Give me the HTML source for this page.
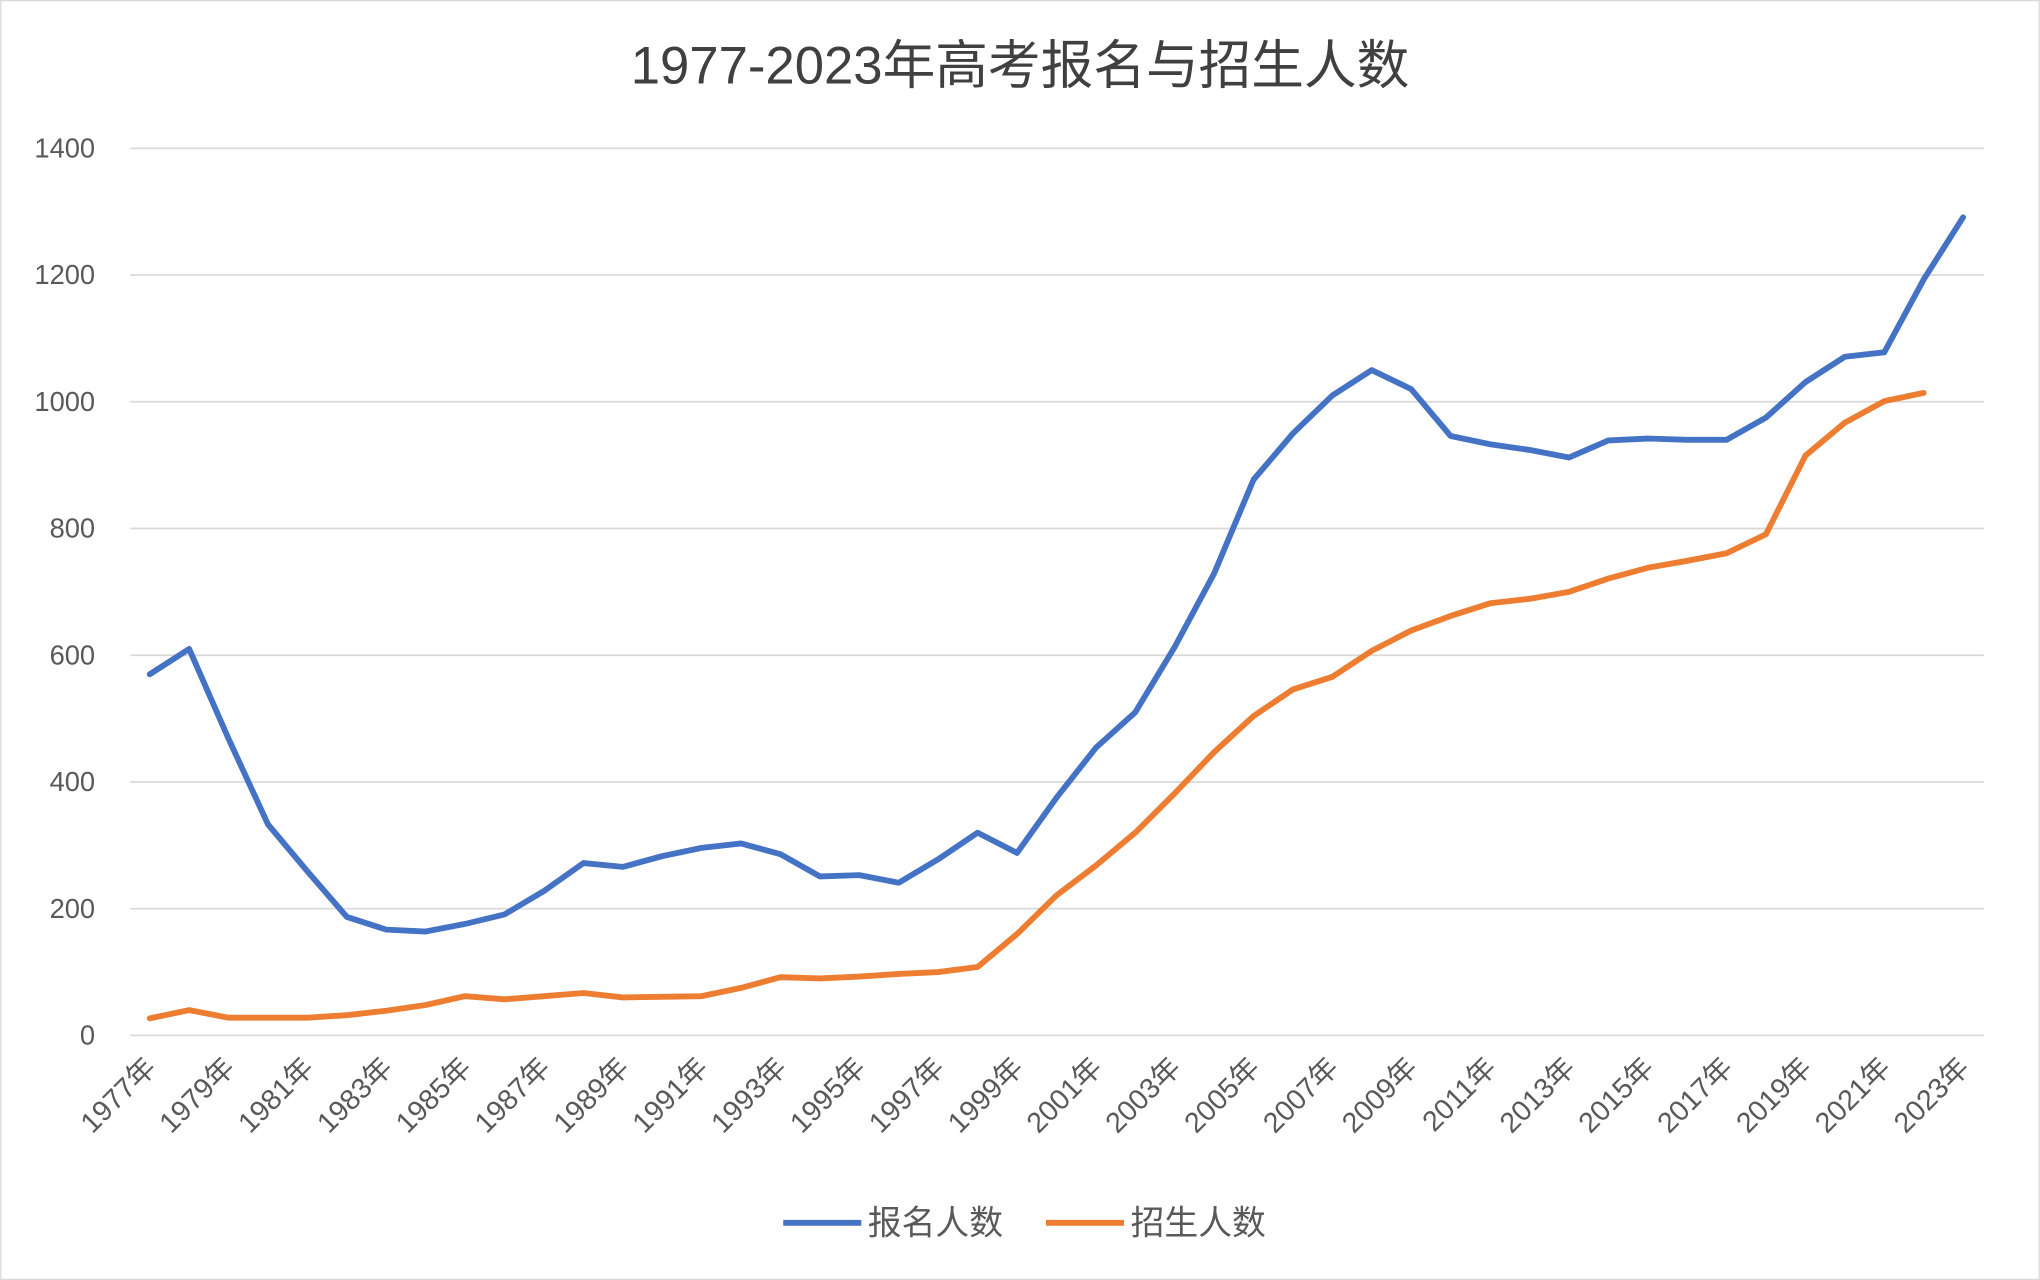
<!DOCTYPE html>
<html><head><meta charset="utf-8"><style>
html,body{margin:0;padding:0;background:#fff}
svg{display:block}
text{font-family:"Liberation Sans","Noto Sans CJK SC",sans-serif}
</style></head><body>
<svg id="c" width="2040" height="1280" viewBox="0 0 1568 984" xmlns="http://www.w3.org/2000/svg">
<rect x="0.5" y="0.5" width="1567" height="983" fill="#fff" stroke="#d9d9d9"/>
<text x="784" y="64" text-anchor="middle" font-size="40.5" fill="#404040">1977-2023年高考报名与招生人数</text>
<g id="grid"></g>
<g id="lbl"></g>
<polyline id="b" fill="none" stroke="#4472c4" stroke-width="4.5" stroke-linejoin="round" stroke-linecap="round"/>
<polyline id="o" fill="none" stroke="#ed7d31" stroke-width="4.5" stroke-linejoin="round" stroke-linecap="round"/>
<line x1="602" y1="940" x2="662" y2="940" stroke="#4472c4" stroke-width="4.5"/>
<text x="667" y="949" font-size="26" fill="#595959">报名人数</text>
<line x1="804" y1="940" x2="864" y2="940" stroke="#ed7d31" stroke-width="4.5"/>
<text x="869" y="949" font-size="26" fill="#595959">招生人数</text>
</svg>
<script>
var B=[570,610,468,333,259,187,167,164,176,191,228,272,266,283,296,303,286,251,253,241,278,320,288,375,454,510,613,729,877,950,1010,1050,1020,946,933,924,912,939,942,940,940,975,1031,1071,1078,1193,1291];
var O=[27,40,28,28,28,32,39,48,62,57,62,67,60,61,62,75,92,90,93,97,100,108,160,221,268,320,382,447,504,546,566,607,639,662,682,689,700,721,738,749,761,791,915,967,1001,1014];
function X(i){return 115+i*1394/46}
function Y(v){return 796-v*(682/1400)}
document.getElementById('b').setAttribute('points',B.map((v,i)=>X(i)+','+Y(v)).join(' '));
document.getElementById('o').setAttribute('points',O.map((v,i)=>X(i)+','+Y(v)).join(' '));
var g='',l='';
for(var v=0;v<=1400;v+=200){var y=Y(v);g+='<line x1="100" y1="'+y+'" x2="1525" y2="'+y+'" stroke="#d9d9d9" stroke-width="1.3"/>';
l+='<text x="73" y="'+(y+7)+'" text-anchor="end" font-size="21" fill="#595959">'+v+'</text>';}
for(var i=0;i<47;i+=2){var x=X(i)+6,y=822;
l+='<text transform="translate('+x+','+y+') rotate(-45)" text-anchor="end" font-size="22" fill="#595959">'+(1977+i)+'年</text>';}
document.getElementById('grid').innerHTML=g;document.getElementById('lbl').innerHTML=l;
</script>
</body></html>
